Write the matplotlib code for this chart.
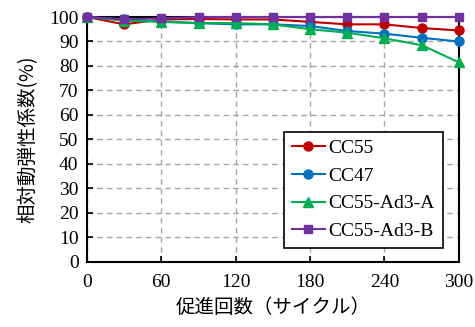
import matplotlib.pyplot as plt
import numpy as np

plt.rcParams['font.family'] = ['Liberation Serif', 'Noto Sans CJK JP']

# 促進回数と相対動弾性係数
cycles = [0, 30, 60, 90, 120, 150, 180, 210, 240, 270, 300]
cc55 = [100, 97, 99, 99.2, 99, 99, 98, 97, 97, 95.5, 94.5]
cc47 = [100, 99, 98.2, 97.5, 97, 97, 96.3, 94.3, 93.2, 91.5, 90]
cc55_a = [100, 98.5, 98, 97.5, 97.5, 97, 95, 93.6, 91.3, 88.5, 81.5]
cc55_b = [100, 99, 99.5, 100, 100, 100, 100, 100, 100, 100, 100]

fig = plt.figure(figsize=(4.75, 3.27), dpi=100)
ax = fig.add_axes([0.183, 0.199, 0.783, 0.749])

ax.plot(cycles, cc55, color='#C00000', marker='o', markersize=6.5, lw=1.5, label='CC55', clip_on=False, zorder=3)
ax.plot(cycles, cc47, color='#0070C0', marker='o', markersize=6.5, lw=1.5, label='CC47', clip_on=False, zorder=3)
ax.plot(cycles, cc55_a, color='#00B050', marker='^', markersize=7, lw=1.5, label='CC55-Ad3-A', clip_on=False, zorder=3)
ax.plot(cycles, cc55_b, color='#7030A0', marker='s', markersize=6, lw=1.5, label='CC55-Ad3-B', clip_on=False, zorder=4)

ax.set_xlim(0, 300)
ax.set_ylim(0, 100)
ax.set_xticks(np.arange(0, 301, 60))
ax.set_yticks(np.arange(0, 101, 10))
ax.tick_params(direction='in', length=4, width=1.2, labelsize=14)
ax.tick_params(axis='x', pad=9)
ax.tick_params(axis='y', pad=6)
ax.grid(True, linestyle=(0, (4, 3)), color='#A6A6A6', lw=1)
for s in ax.spines.values():
    s.set_linewidth(1.5)

ax.set_xlabel('促進回数（サイクル）', fontsize=14, family=['Noto Sans CJK JP'], labelpad=4)
ax.set_ylabel('相対動弾性係数(%)', fontsize=14, family=['Noto Sans CJK JP'], labelpad=8)

leg = ax.legend(loc='lower right', bbox_to_anchor=(0.957, 0.057), fontsize=14,
                frameon=True, fancybox=False, edgecolor='black', framealpha=1,
                handlelength=1.7, borderpad=0.4, labelspacing=0.52, handletextpad=0.2,
                borderaxespad=0)
leg.get_frame().set_linewidth(1.2)

fig.savefig('out.png', dpi=100)
